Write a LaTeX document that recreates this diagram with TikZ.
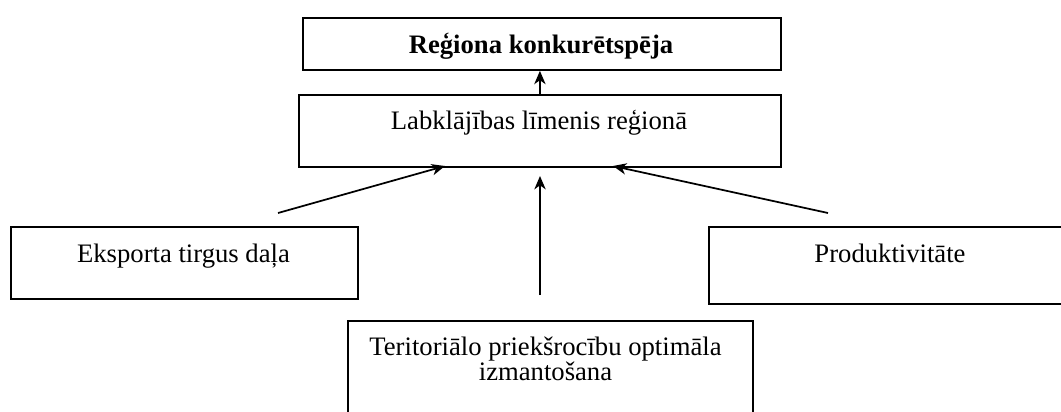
\documentclass[tikz,border=0pt]{standalone}
\usepackage{fontspec}
\setmainfont{Liberation Serif}
\usetikzlibrary{arrows.meta}

\tikzset{
  box/.style={draw, line width=1.4pt, anchor=north west, inner sep=0pt},
  txt/.style={anchor=base, inner sep=0.75pt, font=\fontsize{20}{24}\selectfont},
  arr/.style={line width=1.3pt, -{Stealth[length=10pt,width=8.5pt,inset=3pt]}}
}

\begin{document}
\begin{tikzpicture}[x=0.75pt,y=0.75pt,yscale=-1,xscale=1]
\clip (0,0) rectangle (1061,411); %picture is 1061 x 411

%Boxes
\node [box, minimum width=478*0.75pt, minimum height=52*0.75pt] (konk) at (302,17) {};
\node [box, minimum width=482*0.75pt, minimum height=72*0.75pt] (lab) at (298,94) {};
\node [box, minimum width=347*0.75pt, minimum height=72*0.75pt] (eks) at (10,226) {};
\node [box, minimum width=364*0.75pt, minimum height=77*0.75pt] (prod) at (708,226) {};
\node [box, minimum width=405*0.75pt, minimum height=140*0.75pt] (teri) at (347,320) {};

% Text Nodes
\node [txt, font=\fontsize{20}{24}\selectfont\bfseries] (konk-t) at (541,53) {Reģiona konkurētspēja};
\node [txt] (lab-t) at (539,129) {Labklājības līmenis reģionā};
\node [txt] (eks-t) at (183.5,262) {Eksporta tirgus daļa};
\node [txt] (prod-t) at (890,262) {Produktivitāte};
\node [txt] (teri-t1) at (545.5,355) {Teritoriālo priekšrocību optimāla};
\node [txt] (teri-t2) at (545.5,380) {izmantošana};

%Arrow ends
\coordinate (eks-out) at (278,213);
\coordinate (eks-in) at (445,166);
\coordinate (prod-out) at (828,213);
\coordinate (prod-in) at (613,166);
\coordinate (teri-out) at (540,295);
\coordinate (teri-in) at (540,176);

%Arrows
\draw [arr] (lab.north) -- (lab.north |- konk.south);
\draw [arr] (eks-out) -- (eks-in);
\draw [arr] (prod-out) -- (prod-in);
\draw [arr] (teri-out) -- (teri-in);

\end{tikzpicture}
\end{document}
